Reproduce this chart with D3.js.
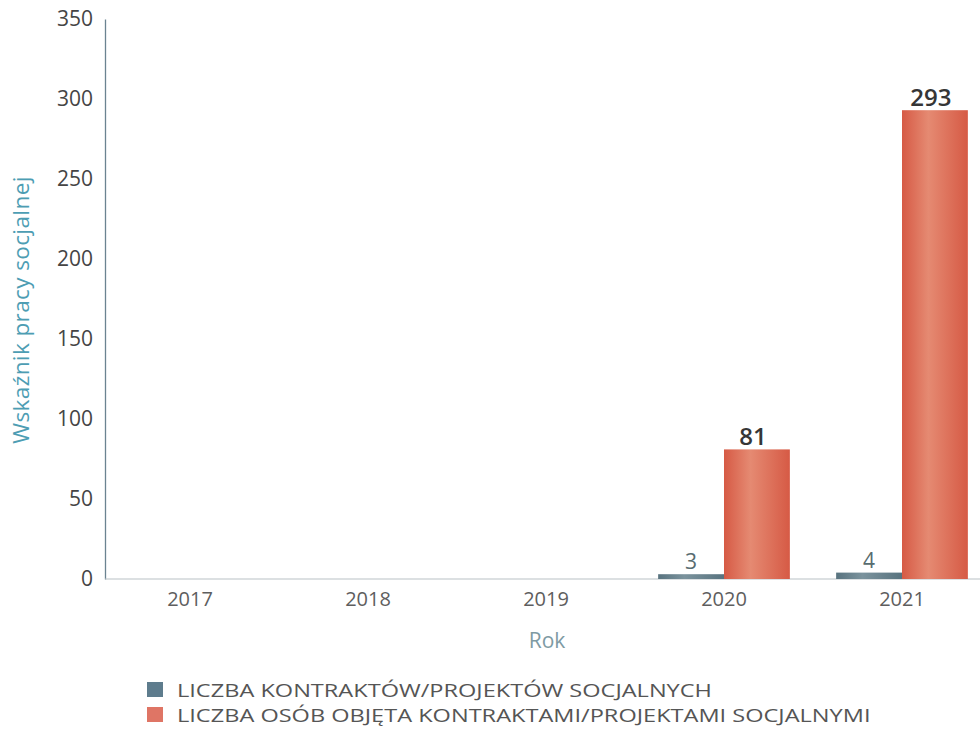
<!DOCTYPE html>
<html>
<head>
<meta charset="utf-8">
<script src="https://cdn.jsdelivr.net/npm/d3@7"></script>
<style>
  body { margin: 0; background: #fff; }
  svg { display: block; font-family: "Open Sans", sans-serif; }
</style>
</head>
<body>
<svg id="chart" width="980" height="729"></svg>
<script>
var years = ['2017', '2018', '2019', '2020', '2021']
,   seriesNames = ['LICZBA KONTRAKTÓW/PROJEKTÓW SOCJALNYCH', 'LICZBA OSÓB OBJĘTA KONTRAKTAMI/PROJEKTAMI SOCJALNYMI']
,   contracts = [0, 0, 0, 3, 4]
,   persons = [0, 0, 0, 81, 293]
,   yTicks = [0, 50, 100, 150, 200, 250, 300, 350]

var svg = d3.select('#chart')
,   margin = { left: 105, top: 19 }
,   baseY = 579

var x = d3.scaleBand().domain(years).range([101, 991]).paddingInner(0.26).paddingOuter(0.13)
,   xSub = d3.scaleBand().domain([0, 1]).range([0, x.bandwidth()])
,   y = d3.scaleLinear().domain([0, 350]).range([baseY, margin.top])

var colors = ['#5e7c8d', '#df7565']

// gradients for the cylindrical look
var defs = svg.append('defs')
function grad(id, edge, mid) {
  var g = defs.append('linearGradient').attr('id', id).attr('x1', 0).attr('x2', 1).attr('y1', 0).attr('y2', 0)
  g.append('stop').attr('offset', '0%').attr('stop-color', edge)
  g.append('stop').attr('offset', '40%').attr('stop-color', mid)
  g.append('stop').attr('offset', '100%').attr('stop-color', edge)
}
grad('gDark', '#58737f', '#7b939d')
grad('gRed', '#d65a45', '#e58a72')

// axes
var yAxis = svg.append('g').attr('transform', 'translate(' + margin.left + ',0)')
  .call(d3.axisLeft(y).tickValues(yTicks).tickSize(0).tickPadding(12))
yAxis.select('.domain').attr('stroke', '#6b8391').attr('stroke-width', 1.3)
yAxis.selectAll('text').attr('fill', '#454545').style('font-size', '21px').style('font-family', '"Open Sans", sans-serif')

var xAxis = svg.append('g').attr('transform', 'translate(0,' + baseY + ')')
  .call(d3.axisBottom(x).tickSize(0).tickPadding(13))
xAxis.select('.domain').attr('d', 'M' + margin.left + ',0H980').attr('stroke', '#b9c2c6').attr('stroke-width', 1.2)
xAxis.selectAll('text').attr('fill', '#5e5e5e').style('font-size', '20px').style('font-family', '"Open Sans", sans-serif')

// bars
var rows = years.map((yr, i) => ({ year: yr, vals: [contracts[i], persons[i]] }))

var groups = svg.append('g').selectAll('g').data(rows).enter().append('g')
  .attr('transform', (d) => 'translate(' + x(d.year) + ',0)')

var barData = (d) => d.vals.map((v, k) => ({ v: v, k: k })).filter((e) => e.v > 0)

groups.selectAll('rect').data(barData)
  .enter().append('rect')
  .attr('x', (e) => xSub(e.k))
  .attr('width', xSub.bandwidth())
  .attr('y', (e) => y(e.v))
  .attr('height', (e) => baseY - y(e.v))
  .attr('fill', (e) => e.k === 0 ? 'url(#gDark)' : 'url(#gRed)')

groups.selectAll('text.val').data(barData)
  .enter().append('text')
  .attr('class', 'val')
  .attr('x', (e) => xSub(e.k) + xSub.bandwidth() / 2 - (e.k === 0 ? 0 : 4))
  .attr('y', (e) => y(e.v) - (e.k === 0 ? 5 : 4))
  .attr('text-anchor', 'middle')
  .attr('fill', (e) => e.k === 0 ? '#586c70' : '#363636')
  .style('font-size', (e) => e.k === 0 ? '21px' : '24px')
  .style('font-weight', (e) => e.k === 0 ? 400 : 600)
  .text((e) => e.v)

// axis titles
svg.append('text')
  .attr('transform', 'translate(29,310) rotate(-90)')
  .attr('text-anchor', 'middle')
  .attr('fill', '#4d9db3')
  .style('font-size', '22.5px')
  .style('letter-spacing', '0.4px')
  .text('Wskaźnik pracy socjalnej')

svg.append('text')
  .attr('x', 547).attr('y', 648)
  .attr('text-anchor', 'middle')
  .attr('fill', '#7e9aa3')
  .style('font-size', '21px')
  .text('Rok')

// legend
var legend = svg.append('g').attr('transform', 'translate(147,682)')
var items = legend.selectAll('g').data(seriesNames).enter().append('g')
  .attr('transform', (d, i) => 'translate(0,' + i * 25 + ')')
items.append('rect').attr('width', 16).attr('height', 15)
  .attr('fill', (d, i) => colors[i])
items.append('text')
  .attr('transform', 'translate(30,15) scale(1.24,1)')
  .attr('fill', '#555')
  .style('font-size', '19px')
  .text((d) => d)
</script>
</body>
</html>
